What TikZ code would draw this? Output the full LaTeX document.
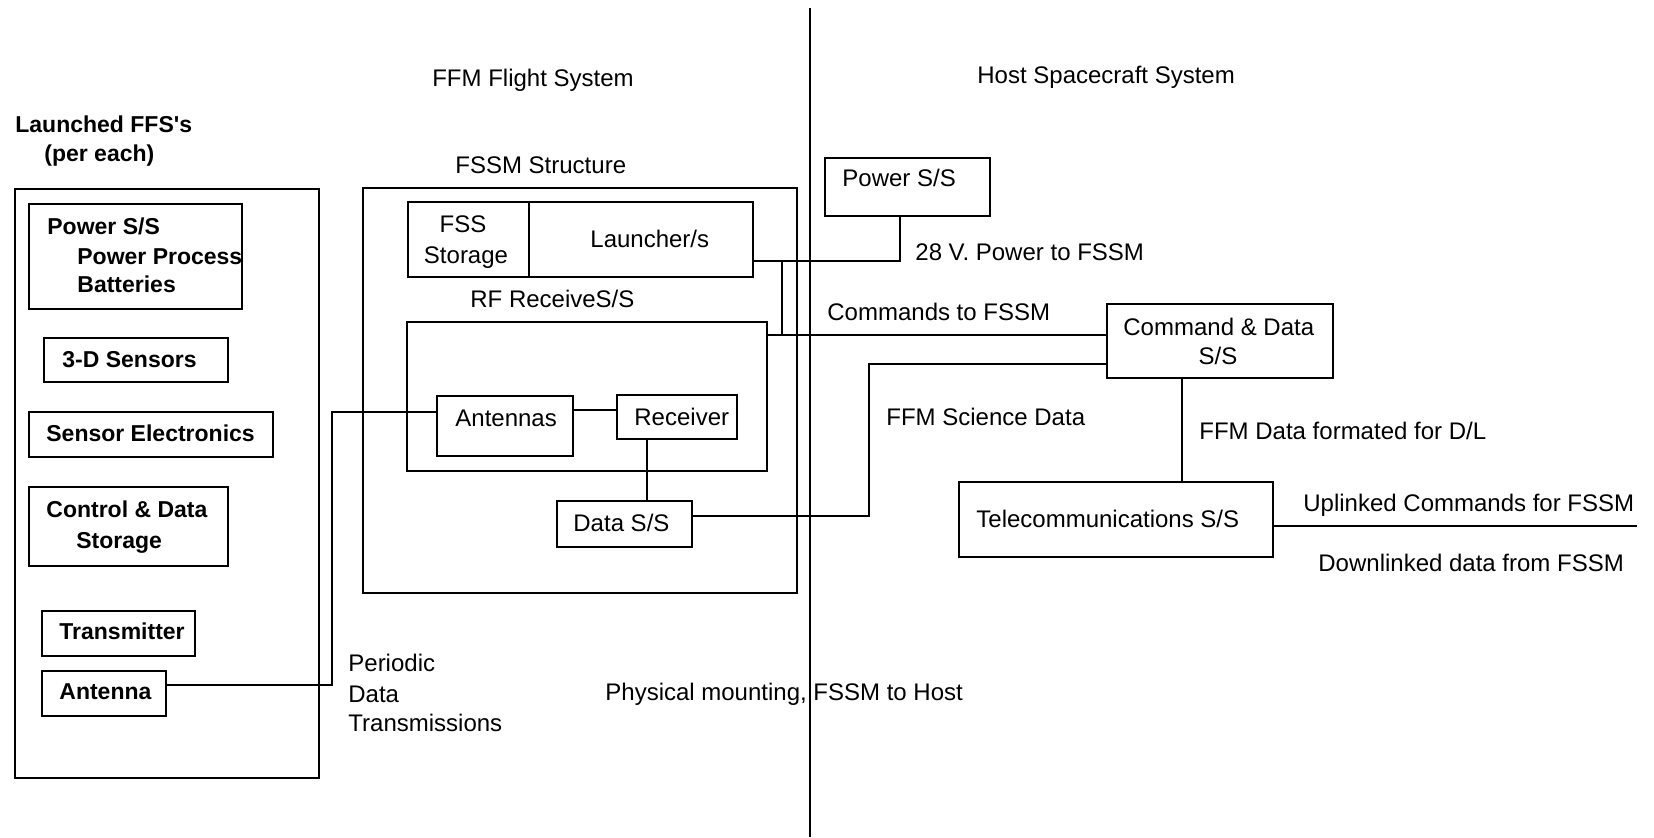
\documentclass[tikz,border=0pt]{standalone}
\usepackage{fontspec}
\setmainfont{Liberation Sans}
\usetikzlibrary{fit}
\tikzset{
  box/.style={draw, line width=1.1pt, inner sep=0pt},
  conn/.style={line width=0.75pt},
  lbl/.style={inner sep=0pt, anchor=base west, font=\fontsize{12}{14}\selectfont},
  lblc/.style={inner sep=0pt, anchor=base, font=\fontsize{12}{14}\selectfont},
  lblb/.style={inner sep=0pt, anchor=base west, font=\fontsize{11.5}{14}\selectfont\bfseries},
}
\begin{document}
\begin{tikzpicture}[x=0.5pt,y=-0.5pt]
\useasboundingbox (0,0) rectangle (1654,837);

% divider
\coordinate (divT) at (810,8);
\coordinate (divB) at (810,837);
\draw[line width=1.2pt] (divT) -- (divB);

% titles
\node[lblc] (tFFM) at (533,86) {FFM Flight System};
\node[lbl] (tHost) at (977,83) {Host Spacecraft System};

% launched FFS group
\node[lblb] (tLaunched) at (15,132) {Launched FFS\textquotesingle s};
\node[lblb] (tPer) at (44,161) {(per each)};
\node[box, fit={(15,189) (319,778)}] (FFS) {};
\node[box, fit={(29,204) (242,309)}] (PowerF) {};
\node[lblb] at (47,234) {Power S/S};
\node[lblb] at (77,264) {Power Process};
\node[lblb] at (77,292) {Batteries};
\node[box, fit={(44,338) (228,382)}] (Sens3D) {};
\node[lblb] at (62,367) {3-D Sensors};
\node[box, fit={(29,412) (273,457)}] (SensEl) {};
\node[lblb] at (46,441) {Sensor Electronics};
\node[box, fit={(29,487) (228,566)}] (CtrlData) {};
\node[lblb] at (46,517) {Control \& Data};
\node[lblb] at (76,548) {Storage};
\node[box, fit={(42,611) (195,656)}] (Transm) {};
\node[lblb] at (59,639) {Transmitter};
\node[box, fit={(42,671) (166,716)}] (Ant) {};
\node[lblb] at (59,699) {Antenna};

% FSSM group
\node[lbl] (tFSSM) at (455,173) {FSSM Structure};
\node[box, fit={(363,188) (797,593)}] (FSSM) {};
\node[box, fit={(408,202) (529,277)}] (FSSStor) {};
\node[lblc] at (463,232) {FSS};
\node[lblc] at (466,263) {Storage};
\node[box, fit={(529,202) (753,277)}] (Launcher) {};
\node[lbl] at (590,247) {Launcher/s};
\node[lbl] (tRF) at (470,307) {RF ReceiveS/S};
\node[box, fit={(407,322) (767,471)}] (RF) {};
\node[box, fit={(437,396) (573,456)}] (Antennas) {};
\node[lbl] at (455,426) {Antennas};
\node[box, fit={(617,395) (737,439)}] (Receiver) {};
\node[lbl] at (634,425) {Receiver};
\node[box, fit={(557,501) (692,547)}] (DataSS) {};
\node[lbl] at (573,531) {Data S/S};

% host group
\node[box, fit={(825,158) (990,216)}] (PowerH) {};
\node[lbl] at (842,186) {Power S/S};
\node[box, fit={(1107,304) (1333,378)}] (CmdData) {};
\node[lbl] at (1123,335) {Command \& Data};
\node[lblc] at (1218,364) {S/S};
\node[box, fit={(959,482) (1273,557)}] (Telecom) {};
\node[lbl] at (976,527) {Telecommunications S/S};

% connector labels
\node[lbl] at (348,671) {Periodic};
\node[lbl] at (348,702) {Data};
\node[lbl] at (348,731) {Transmissions};
\node[lbl] at (605,700) {Physical mounting, FSSM to Host};
\node[lbl] at (915,260) {28 V. Power to FSSM};
\node[lbl] at (827,320) {Commands to FSSM};
\node[lbl] at (886,425) {FFM Science Data};
\node[lbl] at (1199,439) {FFM Data formated for D/L};
\node[lbl] at (1303,511) {Uplinked Commands for FSSM};
\node[lbl] at (1318,571) {Downlinked data from FSSM};

% junction coordinates
\coordinate (jA1) at (332,685);
\coordinate (jA2) at (332,412);
\coordinate (jR) at (600,410);
\coordinate (jRD) at (647,450);
\coordinate (jL) at (782,261);
\coordinate (jP) at (900,261);
\coordinate (jC) at (782,335);
\coordinate (jS1) at (869,516);
\coordinate (jS2) at (869,364);
\coordinate (jT) at (1182,430);
\coordinate (tOut) at (1637,526);

% connectors
\draw[conn] (Ant.east |- jA1) -- (jA1) -- (jA2) -- (Antennas.west |- jA2);
\draw[conn] (Antennas.east |- jR) -- (Receiver.west |- jR);
\draw[conn] (Receiver.south -| jRD) -- (DataSS.north -| jRD);
\draw[conn] (Launcher.east |- jL) -- (jP) -- (PowerH.south -| jP);
\draw[conn] (jL) -- (jC);
\draw[conn] (RF.east |- jC) -- (CmdData.west |- jC);
\draw[conn] (DataSS.east |- jS1) -- (jS1) -- (jS2) -- (CmdData.west |- jS2);
\draw[conn] (CmdData.south -| jT) -- (Telecom.north -| jT);
\draw[conn] (Telecom.east |- tOut) -- (tOut);
\end{tikzpicture}
\end{document}
